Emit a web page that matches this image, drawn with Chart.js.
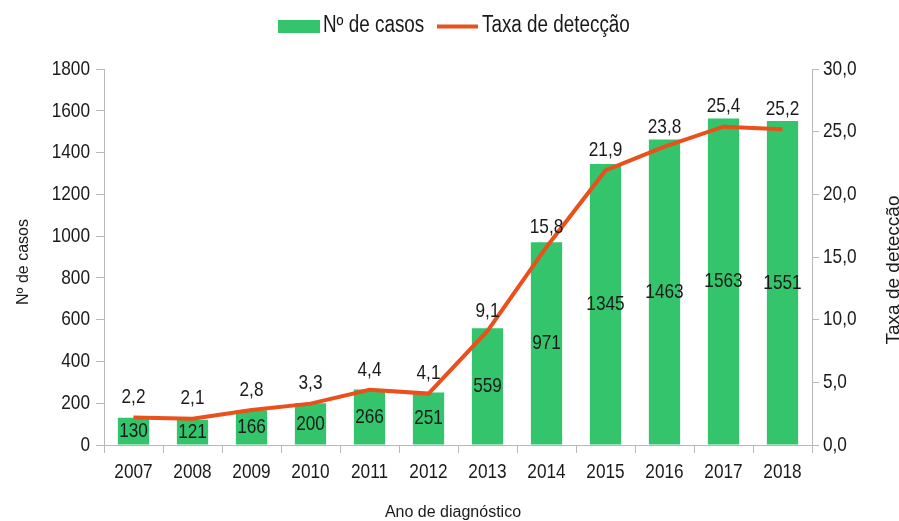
<!DOCTYPE html>
<html>
<head>
<meta charset="utf-8">
<script src="https://cdn.jsdelivr.net/npm/chart.js@4"></script>
<style>
  body { margin: 0; background: #fff; }
  canvas { display: block; }
</style>
</head>
<body>
<canvas id="grafico" width="899" height="521"></canvas>
<script>
// Dados do gráfico
const anos = ['2007', '2008', '2009', '2010', '2011', '2012', '2013', '2014', '2015', '2016', '2017', '2018'];
const casos = [130, 121, 166, 200, 266, 251, 559, 971, 1345, 1463, 1563, 1551];
const taxa = [2.2, 2.1, 2.8, 3.3, 4.4, 4.1, 9.1, 15.8, 21.9, 23.8, 25.4, 25.2];

const VERDE = '#33c46c';
const LARANJA = '#e9501c';
const CINZA = '#b8b8b8';
const TEXTO = '#1a1a1a';
const FONTE = '"Liberation Sans", Arial, sans-serif';
const ESTREITO = 0.82; // Liberation Sans Narrow is the regular face squeezed to 82%

function virgula(v) {
    return v.toFixed(1).replace('.', ',');
}

// draw condensed text the way the narrow font looks
function textoEstreito(ctx, texto, x, y, alinhamento) {
    ctx.save();
    ctx.translate(x, y);
    ctx.scale(ESTREITO, 1);
    ctx.textAlign = alinhamento;
    ctx.fillText(texto, 0, 0);
    ctx.restore();
}

// Plugin that draws value labels, tick labels, axis titles and the legend
const rotulos = {
    id: 'rotulos',
    afterDatasetsDraw(chart) {
        const ctx = chart.ctx;
        ctx.save();
        ctx.fillStyle = TEXTO;
        ctx.textBaseline = 'middle';
        ctx.font = '21px ' + FONTE;

        // bar values in the middle of each bar
        const barras = chart.getDatasetMeta(1);
        barras.data.forEach((el, i) => {
            textoEstreito(ctx, String(casos[i]), el.x, (el.y + el.base) / 2, 'center');
        });

        // line values above each point
        const linha = chart.getDatasetMeta(0);
        linha.data.forEach((el, i) => {
            textoEstreito(ctx, virgula(taxa[i]), el.x, el.y - 20, 'center');
        });
        ctx.restore();
    },
    afterDraw(chart) {
        const ctx = chart.ctx;
        const area = chart.chartArea;
        const sx = chart.scales.x, sy = chart.scales.y, sy1 = chart.scales.y1;
        ctx.save();
        ctx.fillStyle = TEXTO;

        // tick labels
        ctx.font = '21px ' + FONTE;
        ctx.textBaseline = 'alphabetic';
        sx.ticks.forEach((t, i) => {
            textoEstreito(ctx, anos[i], sx.getPixelForTick(i), area.bottom + 33, 'center');
        });
        ctx.textBaseline = 'middle';
        sy.ticks.forEach((t, i) => {
            textoEstreito(ctx, String(t.value), area.left - 14, sy.getPixelForTick(i), 'right');
        });
        sy1.ticks.forEach((t, i) => {
            textoEstreito(ctx, virgula(t.value), area.right + 11, sy1.getPixelForTick(i), 'left');
        });

        // legend
        ctx.fillStyle = VERDE;
        ctx.fillRect(278, 20, 42, 13);
        ctx.fillStyle = TEXTO;
        ctx.font = '23px ' + FONTE;
        ctx.textBaseline = 'alphabetic';
        textoEstreito(ctx, 'Nº de casos', 323, 32, 'left');
        ctx.strokeStyle = LARANJA;
        ctx.lineWidth = 4;
        ctx.beginPath();
        ctx.moveTo(437, 26.5);
        ctx.lineTo(478, 26.5);
        ctx.stroke();
        textoEstreito(ctx, 'Taxa de detecção', 482, 32, 'left');

        // axis titles
        ctx.font = '16px ' + FONTE;
        ctx.textAlign = 'center';
        ctx.fillText('Ano de diagnóstico', 453, 517);

        ctx.save();
        ctx.translate(28, 262);
        ctx.rotate(-Math.PI / 2);
        ctx.fillText('Nº de casos', 0, 0);
        ctx.restore();

        ctx.save();
        ctx.font = '19px ' + FONTE;
        ctx.translate(899, 270);
        ctx.rotate(-Math.PI / 2);
        ctx.fillText('Taxa de detecção', 0, 0);
        ctx.restore();

        ctx.restore();
    }
};

new Chart(document.getElementById('grafico').getContext('2d'), {
    type: 'bar',
    data: {
        labels: anos,
        datasets: [{
            type: 'line',
            label: 'Taxa de detecção',
            data: taxa,
            yAxisID: 'y1',
            borderColor: LARANJA,
            borderWidth: 4,
            pointRadius: 0,
            tension: 0,
            order: 0
        },
        {
            type: 'bar',
            label: 'Nº de casos',
            data: casos,
            yAxisID: 'y',
            backgroundColor: VERDE,
            barPercentage: 0.53,
            categoryPercentage: 1,
            order: 1
        }]
    },
    options: {
        responsive: false,
        animation: false,
        devicePixelRatio: 1,
        layout: {
            padding: { top: 69, left: 0, right: 0, bottom: 0 }
        },
        plugins: {
            legend: { display: false },
            tooltip: { enabled: false }
        },
        scales: {
            x: {
                grid: { drawOnChartArea: false, tickLength: 8, color: CINZA, offset: true },
                border: { color: CINZA },
                ticks: { display: false },
                afterFit: s => { s.height = 76; }
            },
            y: {
                position: 'left',
                min: 0,
                max: 1800,
                grid: { drawOnChartArea: false, tickLength: 8, color: CINZA },
                border: { color: CINZA },
                ticks: { display: false, stepSize: 200 },
                afterFit: s => { s.width = 104; }
            },
            y1: {
                position: 'right',
                min: 0,
                max: 30,
                grid: { drawOnChartArea: false, tickLength: 7, color: CINZA },
                border: { color: CINZA },
                ticks: { display: false, stepSize: 5 },
                afterFit: s => { s.width = 87; }
            }
        }
    },
    plugins: [rotulos]
});
</script>
</body>
</html>
